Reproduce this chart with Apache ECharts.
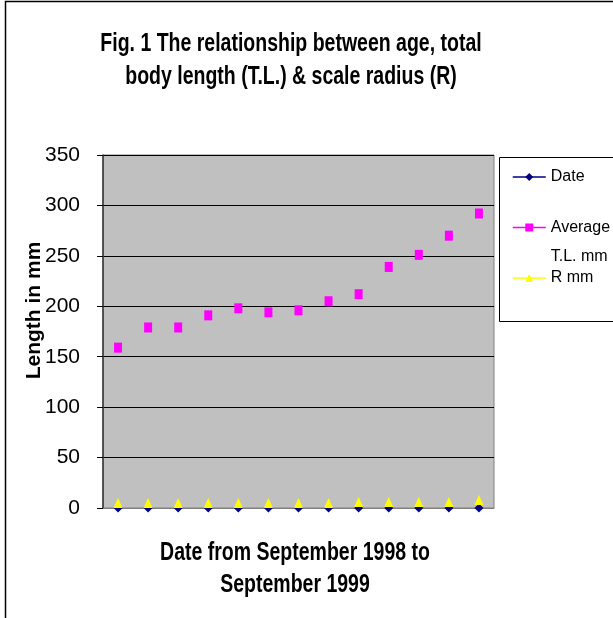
<!DOCTYPE html>
<html>
<head>
<meta charset="utf-8">
<script src="https://cdn.jsdelivr.net/npm/echarts@6/dist/echarts.min.js"></script>
<style>
  html, body { margin: 0; padding: 0; background: #fff; }
  #chart { width: 613px; height: 618px; }
</style>
</head>
<body>
<div id="chart"></div>
<script>
// monthly samples, Sept 1998 .. Sept 1999
var months = ["Sep 1998", "Oct 1998", "Nov 1998", "Dec 1998", "Jan 1999", "Feb 1999", "Mar 1999",
              "Apr 1999", "May 1999", "Jun 1999", "Jul 1999", "Aug 1999", "Sep 1999"];
var dateVals = [0, 0, 0, 0, 0, 0, 0, 0, 0, 0, 0, 0, 0];
var avgTL = [159, 179, 179, 191, 198, 194, 196, 205, 212, 239, 251, 270, 292];
var rMM = [5, 5, 5, 5, 5, 5, 5, 5, 6, 6, 6, 6, 8];

var titleText = "Fig. 1 The relationship between age, total\nbody length (T.L.) & scale radius (R)";
var xTitleText = "Date from September 1998 to\nSeptember 1999";

var sans = '"Liberation Sans", Arial, sans-serif';

var myChart = echarts.init(document.getElementById("chart"));

function legendAt(name, top, extra) {
  var lg = {
    data: [name],
    orient: "vertical",
    left: 512,
    top: top,
    padding: 0,
    itemWidth: 33,
    itemHeight: 10,
    z: 5,
    lineStyle: { width: 1.5 },
    textStyle: { fontFamily: sans, fontSize: 16, color: "#000" }
  };
  return Object.assign(lg, extra || {});
}

// condensed bold text (the original uses a narrow face)
function narrowText(text, x, y, lh) {
  return {
    type: "text", x: x, y: y, scaleX: 0.78, z: 3,
    style: {
      text: text, fill: "#000", align: "center", verticalAlign: "middle",
      font: "bold 25px " + sans, lineHeight: lh
    }
  };
}

var option = {
  animation: false,
  backgroundColor: "#fff",
  legend: [
    legendAt("Date", 169),
    // blank first line keeps the icon level with "Average"
    legendAt("Average T.L. mm", 184, {
      formatter: function () { return " \nAverage\nT.L. mm"; },
      textStyle: { fontFamily: sans, fontSize: 16, lineHeight: 29, color: "#000" }
    }),
    legendAt("R mm", 270)
  ],
  graphic: [
    { type: "rect", x: 5.5, y: 1.5, z: 0, shape: { width: 700, height: 700 },
      style: { fill: "none", stroke: "#000", lineWidth: 1.5 } },
    { type: "rect", x: 499.5, y: 157.5, z: 1, shape: { width: 200, height: 164 },
      style: { fill: "#fff", stroke: "#000", lineWidth: 1 } },
    narrowText(titleText, 291, 61, 33),
    narrowText(xTitleText, 295, 569, 32)
  ],
  grid: {
    left: 103, top: 155, width: 391, height: 353,
    show: true, backgroundColor: "#C0C0C0", borderColor: "#808080", borderWidth: 1
  },
  xAxis: {
    type: "category",
    data: months,
    boundaryGap: true,
    axisLine: { lineStyle: { color: "#808080", width: 1 } },
    axisTick: { show: false },
    axisLabel: { show: false },
    splitLine: { show: false }
  },
  yAxis: {
    type: "value",
    min: 0, max: 350, interval: 50,
    name: "Length in mm",
    nameLocation: "middle",
    nameRotate: 90,
    nameGap: 58,
    nameMoveOverlap: false,
    nameTextStyle: { fontFamily: sans, fontWeight: "bold", fontSize: 21, color: "#000", padding: [0, 0, 0, 42] },
    axisLine: { show: true, lineStyle: { color: "#333", width: 1.5 } },
    axisTick: { show: true, length: 6, lineStyle: { color: "#000" } },
    axisLabel: { fontFamily: sans, fontSize: 21, color: "#000", margin: 23 },
    splitLine: { lineStyle: { color: "#000", width: 1 } }
  },
  series: [
    { name: "Date", type: "line", data: dateVals, symbol: "diamond", symbolSize: [9, 9],
      showAllSymbol: true, clip: false, lineStyle: { width: 0 }, itemStyle: { color: "#000080" }, silent: true },
    { name: "Average T.L. mm", type: "line", data: avgTL, symbol: "rect", symbolSize: [8, 10],
      showAllSymbol: true, clip: false, lineStyle: { width: 0 }, itemStyle: { color: "#FF00FF" }, silent: true },
    { name: "R mm", type: "line", data: rMM, symbol: "triangle", symbolSize: [9, 10],
      showAllSymbol: true, clip: false, lineStyle: { width: 0 }, itemStyle: { color: "#FFFF00" }, silent: true }
  ]
};

myChart.setOption(option);
</script>
</body>
</html>
